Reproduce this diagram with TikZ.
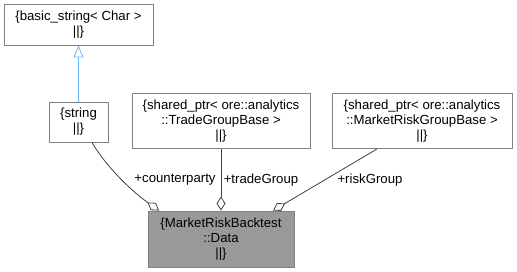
\documentclass[tikz,border=0pt]{standalone}
\usepackage{fontspec}
\setmainfont{Liberation Sans}
\usetikzlibrary{arrows.meta}
\definecolor{boxedge}{RGB}{128,128,128}
\definecolor{edgeline}{RGB}{64,64,64}
\definecolor{inherit}{RGB}{99,184,255}
\definecolor{focusfill}{RGB}{153,153,153}
\begin{document}
\begin{tikzpicture}[x=1pt,y=-1pt,
  classbox/.style={draw=boxedge,line width=0.9pt,fill=white,align=center,inner sep=0pt,
    font=\fontsize{13.2}{14.8}\selectfont},
  focusbox/.style={classbox,fill=focusfill},
  member/.style={draw=edgeline,line width=0.8pt,
    -{Diamond[open,length=14pt,width=9pt,fill=white]}},
  derive/.style={draw=inherit,line width=0.8pt,
    -{Triangle[open,length=12pt,width=10pt,fill=white]}},
  rolelabel/.style={font=\fontsize{13.2}{14.8}\selectfont,inner sep=0pt}]
\useasboundingbox (0,0) rectangle (517,272);
\node[classbox,minimum width=149pt,minimum height=41pt] (bs) at (78.5,24.5) {\{basic\_string\textless{} Char \textgreater{}\\ \textbar{}\textbar{}\}};
\node[classbox,minimum width=59pt,minimum height=40pt] (str) at (78.5,122) {\{string\\ \textbar{}\textbar{}\}};
\node[classbox,minimum width=178pt,minimum height=55pt] (tg) at (221,121) {\{shared\_ptr\textless{} ore::analytics\\ ::TradeGroupBase \textgreater{}\\ \textbar{}\textbar{}\}};
\node[classbox,minimum width=180pt,minimum height=55pt] (mr) at (422,121) {\{shared\_ptr\textless{} ore::analytics\\ ::MarketRiskGroupBase \textgreater{}\\ \textbar{}\textbar{}\}};
\node[focusbox,minimum width=146pt,minimum height=56pt] (data) at (221,239) {\{MarketRiskBacktest\\ ::Data\\ \textbar{}\textbar{}\}};
% inheritance and member relations
\draw[derive] (str.north) -- (bs.south);
\draw[member] (str.south -| 92,0) .. controls (105,165) and (130,190) .. (data.north -| 159,0);
\draw[member] (tg.south) -- (data.north);
\draw[member] (mr.south -| 377,0) -- (data.north -| 273,0);
\node[rolelabel] (lcp) at (175,180) {+counterparty};
\node[rolelabel] (ltg) at (261,180) {+tradeGroup};
\node[rolelabel] (lrg) at (370,180) {+riskGroup};
\end{tikzpicture}
\end{document}
